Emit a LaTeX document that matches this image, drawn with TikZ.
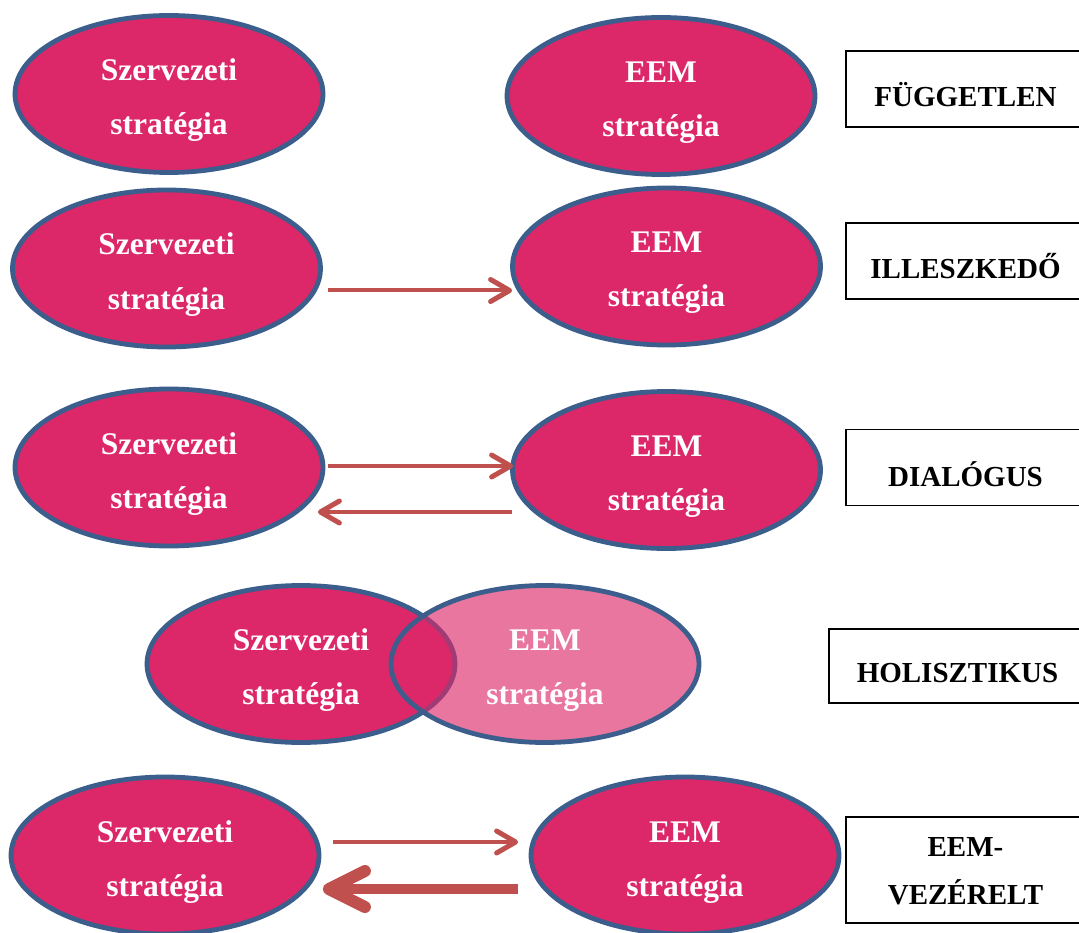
\documentclass[tikz,border=0pt]{standalone}
\usepackage{fontspec}
\setmainfont{Liberation Serif}
\usetikzlibrary{arrows.meta,shapes.geometric,calc}
\definecolor{ovalfill}{HTML}{DC2768}
\definecolor{ovalline}{HTML}{3B5E8C}
\definecolor{arrowred}{HTML}{C0504D}
\tikzset{
  oval/.style={ellipse, draw=ovalline, line width=4.8pt, fill=ovalfill,
    minimum width=308pt, minimum height=157pt, inner sep=0pt},
  ovaltext/.style={anchor=base, inner sep=0pt, text=white,
    font=\bfseries\fontsize{31.5}{36}\selectfont},
  tagbox/.style={draw=black, line width=1.8pt, minimum width=239pt,
    minimum height=76pt, inner sep=0pt},
  tagtext/.style={anchor=base, inner sep=0pt,
    font=\bfseries\fontsize{29}{34}\selectfont},
  thinarrow/.style={draw=arrowred, line width=4pt,
    -{Straight Barb[length=19pt,width=22pt,line width=5pt,round]}},
  thickarrow/.style={draw=arrowred, line width=10pt,
    -{Straight Barb[length=36pt,width=36pt,line width=12pt,round]}},
}
\begin{document}
\begin{tikzpicture}[x=1pt,y=-1pt]
\clip (0,0) rectangle (1079,933);
\fill[white] (0,0) rectangle (1079,933);

% --- independent strategies
\node[oval] (s1) at (169,94) {};
\node[oval] (e1) at (661,96) {};
\node[ovaltext] (s1a) at ([yshift=13.5pt]s1.center) {Szervezeti};
\node[ovaltext] (s1b) at ([yshift=-40.5pt]s1.center) {stratégia};
\node[ovaltext] (e1a) at ([yshift=13.5pt]e1.center) {EEM};
\node[ovaltext] (e1b) at ([yshift=-40.5pt]e1.center) {stratégia};
\node[tagbox] (b1) at (965.5,89) {};
\node[tagtext] (t1) at ([yshift=-18pt]b1.center) {FÜGGETLEN};

% --- fitting
\node[oval] (s2) at (166.5,268.5) {};
\node[oval] (e2) at (666.5,266.5) {};
\node[ovaltext] (s2a) at ([yshift=13.5pt]s2.center) {Szervezeti};
\node[ovaltext] (s2b) at ([yshift=-40.5pt]s2.center) {stratégia};
\node[ovaltext] (e2a) at ([yshift=13.5pt]e2.center) {EEM};
\node[ovaltext] (e2b) at ([yshift=-40.5pt]e2.center) {stratégia};
\draw[thinarrow] ($(s2.east)+(5,22)$) -- ($(s2.east -| e2.west)+(2,22)$);
\node[tagbox] (b2) at (965.5,261) {};
\node[tagtext] (t2) at ([yshift=-18pt]b2.center) {ILLESZKEDŐ};

% --- dialogue
\node[oval] (s3) at (169,467.5) {};
\node[oval] (e3) at (666.5,470) {};
\node[ovaltext] (s3a) at ([yshift=13.5pt]s3.center) {Szervezeti};
\node[ovaltext] (s3b) at ([yshift=-40.5pt]s3.center) {stratégia};
\node[ovaltext] (e3a) at ([yshift=13.5pt]e3.center) {EEM};
\node[ovaltext] (e3b) at ([yshift=-40.5pt]e3.center) {stratégia};
\draw[thinarrow] ($(s3.east)+(2.5,-1.5)$) -- ($(s3.east -| e3.west)+(3,-1.5)$);
\draw[thinarrow] ($(s3.east -| e3.west)+(2,44.5)$) -- ($(s3.east)+(-7.5,44.5)$);
\node[tagbox] (b3) at (965.5,467.5) {};
\node[tagtext] (t3) at ([yshift=-18.5pt]b3.center) {DIALÓGUS};

% --- holistic
\node[oval] (s4) at (301,664) {};
\node[oval, fill opacity=0.63] (e4) at (545,664) {};
\node[ovaltext] (s4a) at ([yshift=13.5pt]s4.center) {Szervezeti};
\node[ovaltext] (s4b) at ([yshift=-40.5pt]s4.center) {stratégia};
\node[ovaltext] (e4a) at ([yshift=13.5pt]e4.center) {EEM};
\node[ovaltext] (e4b) at ([yshift=-40.5pt]e4.center) {stratégia};
\node[tagbox, minimum width=257pt, minimum height=74pt] (b4) at (957.5,666) {};
\node[tagtext] (t4) at ([yshift=-16pt]b4.center) {HOLISZTIKUS};

% --- EEM-driven
\node[oval] (s5) at (165,855.5) {};
\node[oval] (e5) at (685,855.5) {};
\node[ovaltext] (s5a) at ([yshift=13.5pt]s5.center) {Szervezeti};
\node[ovaltext] (s5b) at ([yshift=-40.5pt]s5.center) {stratégia};
\node[ovaltext] (e5a) at ([yshift=13.5pt]e5.center) {EEM};
\node[ovaltext] (e5b) at ([yshift=-40.5pt]e5.center) {stratégia};
\draw[thinarrow] ($(s5.east)+(11.5,-13.5)$) -- ($(s5.east -| e5.west)+(-10.5,-13.5)$);
\draw[thickarrow] ($(s5.east -| e5.west)+(-10.5,33.5)$) -- ($(s5.east)+(1.5,33.5)$);
\node[tagbox, minimum height=106pt] (b5) at (965.5,870) {};
\node[tagtext] (t5a) at ([yshift=14pt]b5.center) {EEM-};
\node[tagtext] (t5b) at ([yshift=-34pt]b5.center) {VEZÉRELT};
\end{tikzpicture}
\end{document}
